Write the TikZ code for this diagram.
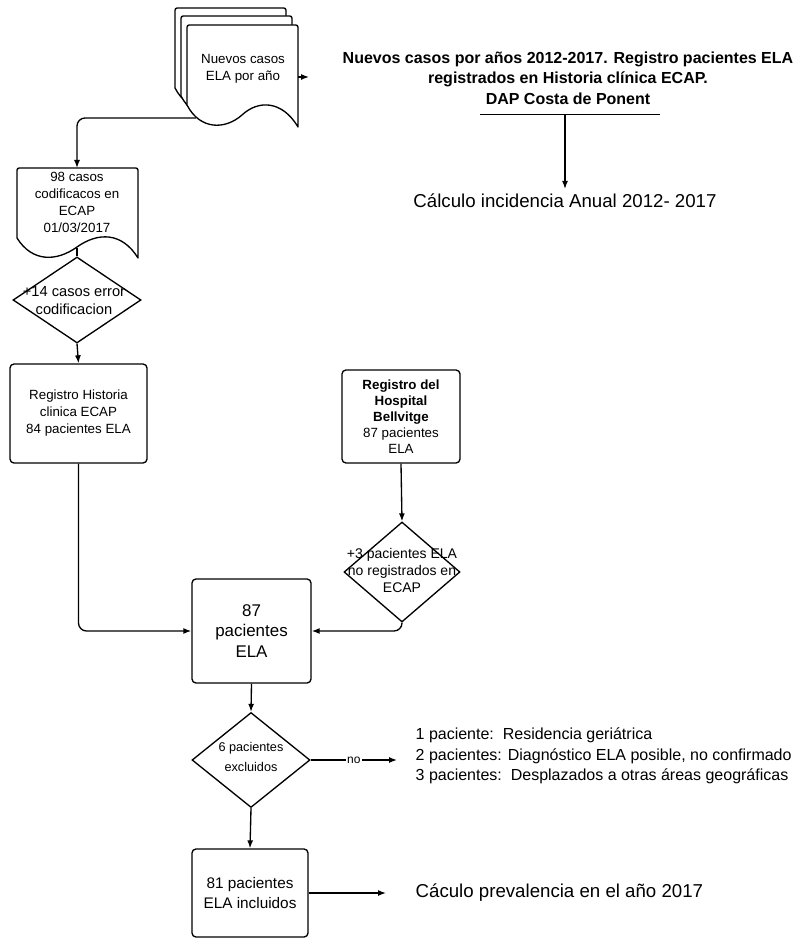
\documentclass[tikz,border=0pt]{standalone}
\usepackage{fontspec}
\setmainfont{Liberation Sans}
\usetikzlibrary{arrows.meta,shapes.geometric}
\begin{document}
\begin{tikzpicture}[x=0.75pt,y=-0.75pt,
  line width=1pt,
  arr/.style={-{Latex[length=6pt,width=4.5pt]}},
  rbox/.style={draw, rounded corners=3pt, inner sep=0pt, align=center},
  dia/.style={draw, diamond, inner sep=0pt},
  docshape/.style={draw, fill=white, line join=round},
  small/.style={font=\fontsize{10}{12.75}\selectfont, align=center},
  big/.style={font=\fontsize{14}{17}\selectfont},
]
\useasboundingbox (0,0) rectangle (799,941);

% multi-document
\foreach \dx/\dy in {-12/-17,-6/-9,0/0}{
  \begin{scope}[shift={(\dx,\dy)}]
    \path[docshape] (187,105) -- (187,30) .. controls (187,25) .. (192,25)
      -- (293,25) .. controls (298,25) .. (298,30) -- (298,127)
      .. controls (282,100) and (258,100) .. (242,115)
      .. controls (225,130) and (200,130) .. (187,105) -- cycle;
  \end{scope}
}
\node[small] (nuevos) at (243,69) {Nuevos casos\\ELA por año};
\coordinate (docright) at (298,77);
\coordinate (docstub) at (309,77);
\draw[arr] (docright) -- (docstub);
\coordinate (docout) at (196,118);

% 98 casos document
\path[docshape] (17,238) -- (17,173) .. controls (17,168) .. (22,168)
  -- (133,168) .. controls (138,168) .. (138,173) -- (138,258)
  .. controls (122,232) and (98,232) .. (77,247)
  .. controls (56,262) and (32,262) .. (17,238) -- cycle;
\node[small] (casos) at (77,202) {98 casos\\codificacos en\\ECAP\\01/03/2017};
\coordinate (casostop) at (77,168);
\coordinate (casosbot) at (77,248);

\draw[arr, rounded corners=6pt] (docout) -| (casostop);

% diamond 1
\node[dia, minimum width=96pt, minimum height=64.5pt] (d1) at (77,300) {};
\node[align=center, font=\fontsize{11}{13.5}\selectfont] (d1t) at (74,301) {+14 casos error\\codificacion};
\draw (casosbot) -- (d1.north);

% Registro historia
\node[rbox, small, minimum width=102.75pt, minimum height=74.25pt] (reg) at (78.5,413.5)
  {Registro Historia\\clinica ECAP\\84 pacientes ELA};
\draw[arr] (d1.south) -- (reg.north);

% Bellvitge
\node[rbox, font=\fontsize{10}{12}\selectfont, minimum width=88.5pt, minimum height=69.75pt] (bell) at (401,416.5)
  {\textbf{Registro del}\\\textbf{Hospital}\\\textbf{Bellvitge}\\87 pacientes\\ELA};

% diamond 2
\node[dia, minimum width=87pt, minimum height=75pt] (d2) at (402,572) {};
\node[align=center, font=\fontsize{10.5}{12.75}\selectfont] (d2t) at (402,570) {+3 pacientes ELA\\no registrados en\\ECAP};
\draw[arr] (bell.south) -- (d2.north);

% 87 box
\node[rbox, font=\fontsize{12.7}{15.4}\selectfont, minimum width=89.25pt, minimum height=78pt] (b87) at (251.5,631)
  {87\\pacientes\\ELA};
\draw[arr, rounded corners=6pt] (reg.south) |- (b87.west);
\draw[arr, rounded corners=6pt] (d2.south) |- (b87.east);

% diamond 3
\node[dia, minimum width=88.5pt, minimum height=71.25pt] (d3) at (251,760) {};
\node[align=center, font=\fontsize{9.5}{15}\selectfont] (d3t) at (251,757) {6 pacientes\\excluidos};
\draw[arr] (b87.south) -- (d3.north);

\coordinate (noend) at (397,760);
\draw[arr] (d3.east) -- node[fill=white, inner sep=1pt, font=\fontsize{9}{11}\selectfont] {no} (noend);
\node[anchor=west, inner sep=0pt, align=left, font=\fontsize{12}{15.4}\selectfont] (lst) at (415,756)
  {1 paciente:\ \ Residencia geriátrica\\
   2 pacientes: Diagnóstico ELA posible, no confirmado\\
   3 pacientes:\ \ Desplazados a otras áreas geográficas};

% 81 box
\node[rbox, font=\fontsize{11.5}{15}\selectfont, minimum width=87pt, minimum height=66pt] (b81) at (250,893)
  {81 pacientes\\ELA incluidos};
\draw[arr] (d3.south) -- (b81.north);
\coordinate (prevend) at (386,893);
\draw[arr] (b81.east) -- (prevend);
\node[big, anchor=west, inner sep=0pt] (prev) at (415,893) {Cáculo prevalencia en el año 2017};

% header
\node[font=\fontsize{12}{15.4}\selectfont\bfseries, align=center] (hdr) at (568,78)
  {Nuevos casos por años 2012-2017. Registro pacientes ELA\\
   registrados en Historia clínica ECAP.\\
   DAP Costa de Ponent};
\coordinate (ulL) at (480,114);
\coordinate (ulR) at (660,114);
\coordinate (ulM) at (565,114);
\draw[line width=0.7pt] (ulL) -- (ulR);
\node[big] (inc) at (565,201) {Cálculo incidencia Anual 2012- 2017};
\draw[arr] (ulM) -- (inc.north);
\end{tikzpicture}
\end{document}
